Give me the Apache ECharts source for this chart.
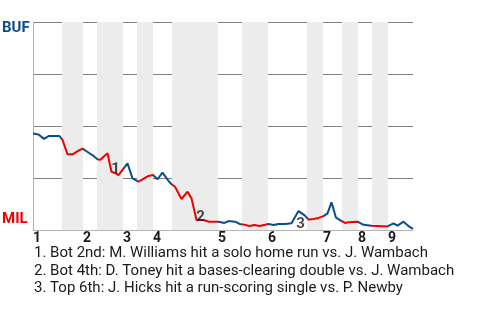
<!DOCTYPE html>
<html>
<head>
<meta charset="utf-8">
<script src="https://cdn.jsdelivr.net/npm/echarts@6/dist/echarts.min.js"></script>
<style>
html,body{margin:0;padding:0;background:#fff;}
#c{width:480px;height:320px;}
</style>
</head>
<body>
<div id="c"></div>
<script>
// Game progress (plate-appearance index) and BUF win probability
const xs = [0,1.1,2.2,3.2,4.2,5.3,5.9,6.9,7.9,9.1,9.9,11.3,12.1,12.9,13.4,14.9,15.7,16.5,17.1,18.9,19.9,21.1,22,23.1,24,24.9,25.9,27.1,27.7,28.4,29.7,30.9,31.7,32.7,34.1,35.2,37.1,38.3,39.1,40.4,41.3,42,43.3,44.3,45.3,46.4,47.1,48.1,49.1,50.4,51.7,53.1,54.4,55.1,56.1,57.1,58.1,58.9,59.7,60.6,61.4,62.4,63.1,64.9,66.1,67.7,68.1,70.9,72.1,72.9,74.1,75.1,76];
const bufWP = [0.464,0.459,0.438,0.452,0.452,0.452,0.433,0.364,0.364,0.382,0.391,0.369,0.356,0.340,0.337,0.369,0.280,0.273,0.264,0.320,0.248,0.232,0.245,0.260,0.264,0.244,0.276,0.236,0.220,0.208,0.149,0.184,0.152,0.048,0.048,0.040,0.040,0.034,0.043,0.040,0.029,0.027,0.019,0.024,0.019,0.025,0.029,0.024,0.029,0.029,0.032,0.091,0.069,0.050,0.053,0.058,0.067,0.080,0.133,0.059,0.048,0.034,0.037,0.040,0.025,0.021,0.017,0.017,0.032,0.021,0.040,0.019,0.005];
// Half-inning boundaries
const inningStarts = [0,10,18,24,37,47,58,65,71];
const inningNames = ['1','2','3','4','5','6','7','8','9'];
const bottomHalves = [[5.8,10],[12.8,18],[20.8,24],[27.8,37],[41.8,47],[54.8,58],[61.8,65],[67.8,71]];
const xMax = 76;
// Annotated plays
const noteIdx = [16,33,51];
const noteText = ['1','2','3'];
const noteOffset = [[4,-3],[4,-3],[2,13]];
const footnotes = [
  '1. Bot 2nd: M. Williams hit a solo home run vs. J. Wambach',
  '2. Bot 4th: D. Toney hit a bases-clearing double vs. J. Wambach',
  '3. Top 6th: J. Hicks hit a run-scoring single vs. P. Newby'
];
const BLUE = '#0b4c8f', RED = '#ee0000';

const chart = echarts.init(document.getElementById('c'));
const lineData = xs.map((x,i)=>[x,bufWP[i]]);
const option = {
  animation:false,
  grid:{left:33,right:67,top:22,bottom:90,containLabel:false},
  xAxis:{type:'value',min:0,max:xMax,
    axisLine:{show:true,lineStyle:{color:'#b4b4b4',width:1}},
    axisTick:{show:false},splitLine:{show:false},
    axisLabel:{customValues:inningStarts,formatter:(v)=>inningNames[inningStarts.indexOf(v)],
      align:'left',margin:1,fontFamily:'Roboto',fontSize:14,fontWeight:'bold',color:'#1a1a1a'}},
  yAxis:{type:'value',min:0,max:1,interval:0.25,
    axisLine:{show:true,lineStyle:{color:'#b4b4b4',width:1}},
    axisTick:{show:false},axisLabel:{show:false},
    splitLine:{show:true,lineStyle:{color:'#808080',width:1}}},
  visualMap:{type:'piecewise',show:false,dimension:0,seriesIndex:0,
    pieces:bottomHalves.map(b=>({gte:b[0],lt:b[1],color:RED})),
    outOfRange:{color:BLUE}},
  series:[
    {type:'line',data:lineData,symbol:'none',lineStyle:{width:2},z:5,
      markArea:{silent:true,itemStyle:{color:'#ececec'},
        data:bottomHalves.map(b=>[{xAxis:b[0]},{xAxis:b[1]}])}},
    {type:'scatter',symbolSize:0,z:10,silent:true,
      data:noteIdx.map((k,i)=>({value:[xs[k],bufWP[k]],
        label:{show:true,formatter:noteText[i],position:'inside',offset:noteOffset[i],
          fontFamily:'Roboto',fontSize:15,fontWeight:'bold',color:'#1a1a1a'}}))}
  ],
  graphic:[
    {type:'text',left:2,top:21,style:{text:'BUF',fontFamily:'Roboto',fontSize:15,fontWeight:'bold',fill:BLUE}},
    {type:'text',left:2,top:212,style:{text:'MIL',fontFamily:'Roboto',fontSize:15,fontWeight:'bold',fill:RED}}
  ].concat(footnotes.map((t,i)=>({type:'text',left:34,top:246+i*17.5,
    style:{text:t,fontFamily:'Roboto',fontSize:15,fill:'#1a1a1a'}})))
};
chart.setOption(option);
</script>
</body>
</html>
